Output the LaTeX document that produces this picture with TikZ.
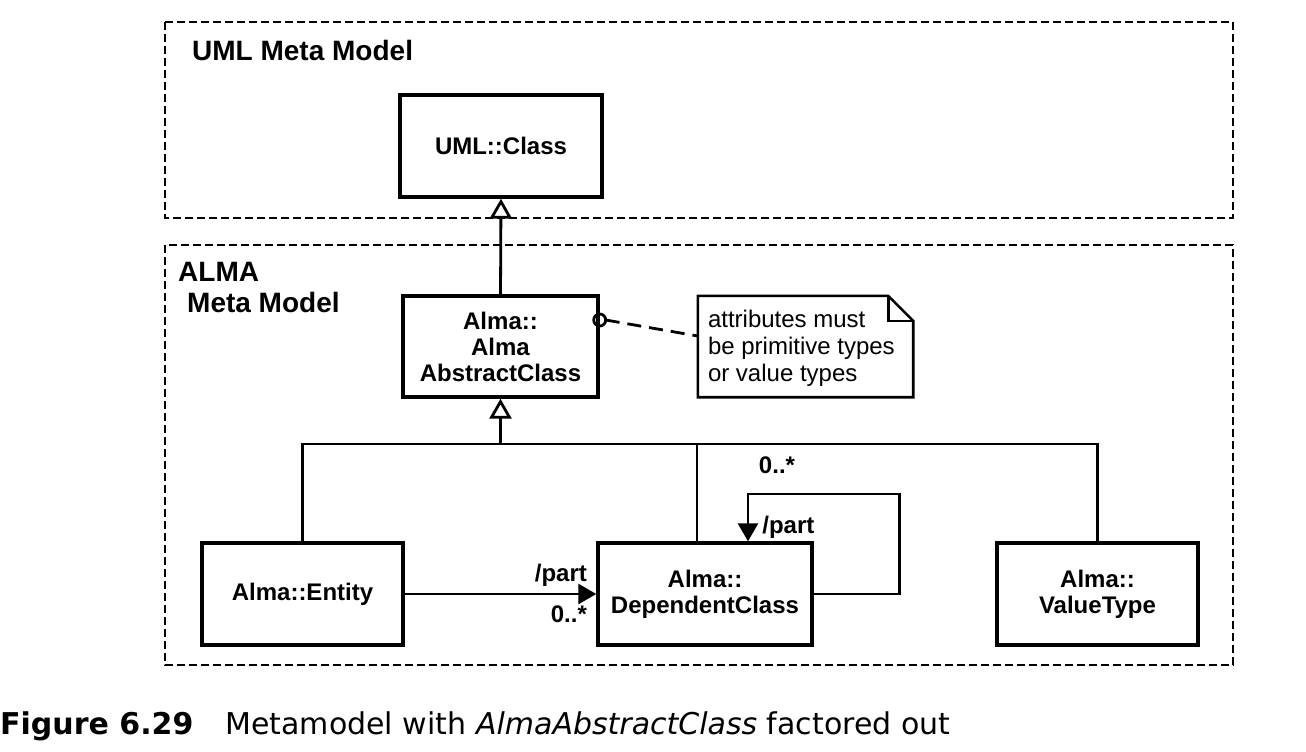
\documentclass[tikz,border=0pt]{standalone}
\usepackage{fontspec}
\setmainfont{Liberation Sans}
\newfontfamily\capfont{DejaVu Sans}
\usetikzlibrary{arrows.meta}

\begin{document}
\begin{tikzpicture}[x=1pt,y=-1pt,>={Triangle[length=18pt,width=20pt]},
        cls/.style={draw, line width=3.4pt, align=center, inner sep=0pt,
            font=\fontsize{24}{26}\selectfont\bfseries},
        pkg/.style={line width=2.6pt, dash pattern=on 8pt off 4pt},
        pkglabel/.style={anchor=north west, align=left, inner sep=0pt,
            font=\fontsize{28}{31}\selectfont\bfseries},
        lnk/.style={line width=2.8pt},
        mult/.style={inner sep=0pt, font=\fontsize{24}{26}\selectfont\bfseries},
        gen/.style={lnk, -{Triangle[open, length=20pt, width=22pt, line width=2.8pt]}}]
        \useasboundingbox (0,0) rectangle (1306,752);

        \draw[pkg] (165,22) rectangle (1233,218);
        \draw[pkg] (165,245) rectangle (1233,665);
        \node[pkglabel] (umlpkg) at (192,40) {UML Meta Model};
        \node[pkglabel] (almapkg) at (178,262) {ALMA\\\hspace*{9pt}Meta Model};

        \node[cls, minimum width=202pt, minimum height=102pt] (umlclass) at (501,146) {UML::Class};
        \node[cls, minimum width=195pt, minimum height=101pt] (abstract) at (500.5,346.5) {Alma::\\Alma\\AbstractClass};
        \node[cls, minimum width=201pt, minimum height=102pt] (entity) at (302.5,594) {Alma::Entity};
        \node[cls, minimum width=214pt, minimum height=102pt] (dependent) at (705,594) {Alma::\\DependentClass};
        \node[cls, minimum width=201pt, minimum height=102pt] (valuetype) at (1097.5,594) {Alma::\\ValueType};

        \node[minimum width=215pt, minimum height=101pt, inner sep=0pt] (note) at (805.5,346.5) {};
        \draw[line width=2.6pt] (note.south west) -- (note.north west) -- ([xshift=-25pt]note.north east)
            -- ([yshift=-25pt]note.north east) -- (note.south east) -- cycle;
        \draw[line width=2.6pt] ([xshift=-25pt]note.north east) |- ([yshift=-25pt]note.north east);
        \node[anchor=north west, align=left, inner sep=0pt, font=\fontsize{24}{27}\selectfont]
            (notetext) at ([shift={(10pt,-14pt)}]note.north west) {attributes must\\be primitive types\\or value types};

        \coordinate (anchorpt) at ([yshift=26.5pt]abstract.east);
        \coordinate (notept) at ([yshift=10.5pt]note.west);
        \draw[lnk] (anchorpt) circle (6pt);
        \draw[lnk, dash pattern=on 14pt off 8pt] ([xshift=6pt]anchorpt) -- (notept);

        \draw[gen] (abstract.north) -- (umlclass.south);
        \coordinate (bus) at (abstract.south |- 0,444);
        \draw[lnk] (entity.north) |- (valuetype.north |- bus) -- (valuetype.north);
        \draw[lnk] ([xshift=-8pt]dependent.north) -- ([xshift=-8pt]dependent.north |- bus);
        \draw[gen] (bus) -- (abstract.south);

        \draw[lnk, ->] (entity.east) -- (dependent.west)
            node[mult, pos=1, anchor=base east, xshift=-8pt, yshift=13pt] (partA) {/part}
            node[mult, pos=1, anchor=north east, xshift=-8pt, yshift=-10pt] (multA) {0..*};
        \draw[lnk, ->] (dependent.east) -- ++(86,0) -- ++(0,-100) -| ([xshift=43pt]dependent.north)
            node[mult, pos=0.85, anchor=west, xshift=13pt] (partB) {/part};
        \node[mult] (multB) at (777,465) {0..*};

        \node[anchor=base west, inner sep=0pt, font=\capfont\fontsize{30}{34}\selectfont] (caption) at (0,734)
            {{\bfseries Figure 6.29}\hspace{32pt}Metamodel with \textit{AlmaAbstractClass} factored out};
    \end{tikzpicture}
\end{document}
